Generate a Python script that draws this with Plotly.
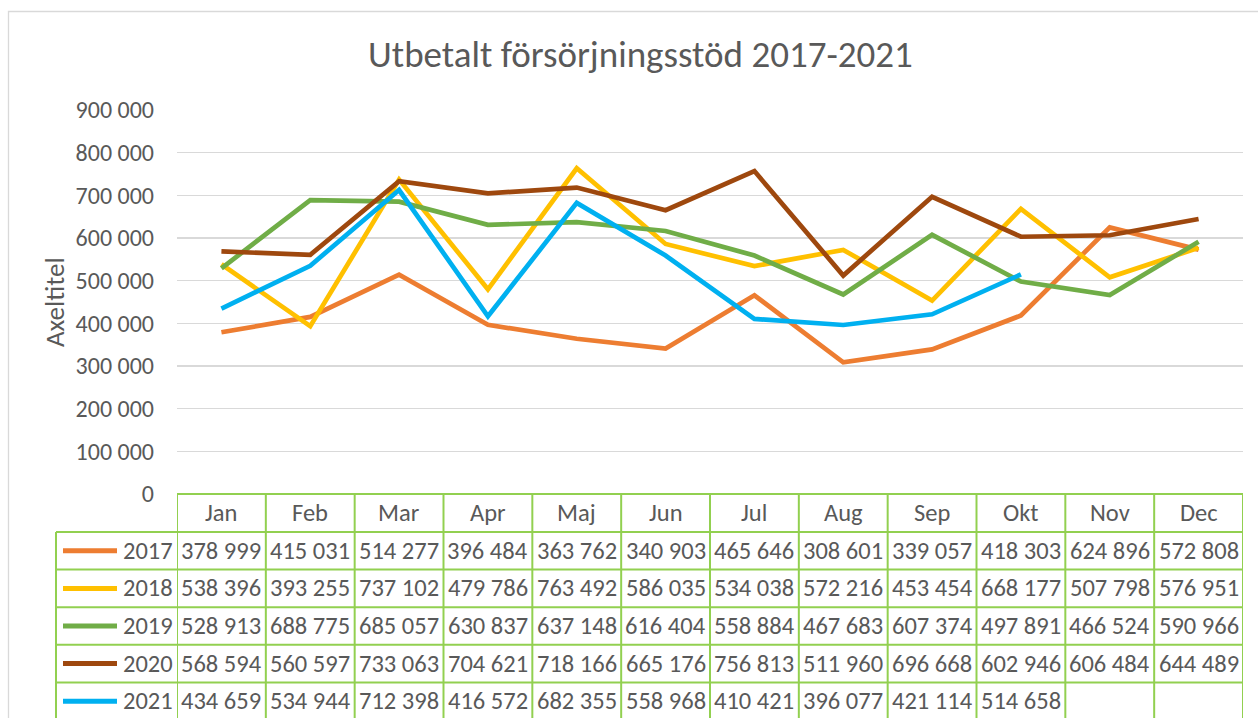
import plotly.graph_objects as go

months = ["Jan", "Feb", "Mar", "Apr", "Maj", "Jun", "Jul", "Aug", "Sep", "Okt", "Nov", "Dec"]
years = ["2017", "2018", "2019", "2020", "2021"]
v2017 = [378999, 415031, 514277, 396484, 363762, 340903, 465646, 308601, 339057, 418303, 624896, 572808]
v2018 = [538396, 393255, 737102, 479786, 763492, 586035, 534038, 572216, 453454, 668177, 507798, 576951]
v2019 = [528913, 688775, 685057, 630837, 637148, 616404, 558884, 467683, 607374, 497891, 466524, 590966]
v2020 = [568594, 560597, 733063, 704621, 718166, 665176, 756813, 511960, 696668, 602946, 606484, 644489]
v2021 = [434659, 534944, 712398, 416572, 682355, 558968, 410421, 396077, 421114, 514658, None, None]
series = [v2017, v2018, v2019, v2020, v2021]
colors = ["#ED7D31", "#FFC000", "#70AD47", "#9E480E", "#00B0F0"]

W, H = 1258, 718
FONT = "Carlito, Lato, sans-serif"
TXT = "#595959"
GREEN = "#92D050"
FS = 24.5

def px(x):
    return x / W

def py(y):
    return 1 - y / H

fig = go.Figure()
xs = list(range(len(months)))
for name, vals, c in zip(years, series, colors):
    fig.add_trace(go.Scatter(x=xs, y=vals, mode="lines", name=name,
                             line=dict(color=c, width=4.7), connectgaps=False,
                             showlegend=False, hoverinfo="skip"))

shapes = []
annotations = []

# chart border
shapes.append(dict(type="rect", xref="paper", yref="paper", x0=px(8.5), x1=px(1262),
                   y0=py(722), y1=py(11.5), line=dict(color="#D9D9D9", width=1.3),
                   fillcolor="rgba(0,0,0,0)", layer="below"))

# table geometry (pixels)
header_top, header_bot = 494, 532
row_h = 37.6
row_tops = [header_bot + i * row_h for i in range(len(years))]
table_bottom = 725
left_x = 56

shapes.append(dict(type="line", xref="x", yref="paper", x0=-0.5, x1=11.5,
                   y0=py(header_top), y1=py(header_top), line=dict(color=GREEN, width=2)))
for t in row_tops:
    shapes.append(dict(type="line", xref="paper", yref="paper", x0=px(left_x), x1=px(1243),
                       y0=py(t), y1=py(t), line=dict(color=GREEN, width=2)))
for k in range(len(months) + 1):
    shapes.append(dict(type="line", xref="x", yref="paper", x0=k - 0.5, x1=k - 0.5,
                       y0=py(header_top), y1=py(table_bottom), line=dict(color=GREEN, width=2)))
shapes.append(dict(type="line", xref="paper", yref="paper", x0=px(left_x), x1=px(left_x),
                   y0=py(header_bot), y1=py(table_bottom), line=dict(color=GREEN, width=2)))

for i, m in enumerate(months):
    annotations.append(dict(x=i, y=py((header_top + header_bot) / 2), xref="x", yref="paper",
                            text=m, showarrow=False, font=dict(family=FONT, size=FS, color=TXT),
                            xanchor="center", yanchor="middle"))

def fmt(v):
    return f"{v:,}".replace(",", " ")

for r, (name, vals, c) in enumerate(zip(years, series, colors)):
    cy = row_tops[r] + row_h / 2
    shapes.append(dict(type="line", xref="paper", yref="paper", x0=px(63), x1=px(117),
                       y0=py(cy), y1=py(cy), line=dict(color=c, width=5)))
    annotations.append(dict(x=px(175), y=py(cy), xref="paper", yref="paper", text=name,
                            showarrow=False, font=dict(family=FONT, size=FS, color=TXT),
                            xanchor="right", yanchor="middle"))
    for i, v in enumerate(vals):
        if v is None:
            continue
        annotations.append(dict(x=i, y=py(cy), xref="x", yref="paper", text=fmt(v),
                                showarrow=False, font=dict(family=FONT, size=FS, color=TXT),
                                xanchor="center", yanchor="middle"))

annotations.append(dict(x=px(640), y=py(55), xref="paper", yref="paper",
                        text="Utbetalt försörjningsstöd 2017-2021", showarrow=False,
                        font=dict(family=FONT, size=37, color=TXT),
                        xanchor="center", yanchor="middle"))
annotations.append(dict(x=px(54), y=py(302), xref="paper", yref="paper", text="Axeltitel",
                        showarrow=False, textangle=-90,
                        font=dict(family=FONT, size=27, color=TXT),
                        xanchor="center", yanchor="middle"))

fig.update_layout(
    width=W, height=H,
    margin=dict(l=0, r=0, t=0, b=0, pad=0),
    paper_bgcolor="white", plot_bgcolor="white",
    separators=", ",
    hovermode=False,
    xaxis=dict(domain=[px(177), px(1243)], range=[-0.5, 11.5], showticklabels=False,
               showgrid=False, zeroline=False, showline=False, ticks="", automargin=False),
    yaxis=dict(domain=[py(494), py(110)], range=[0, 900000], dtick=100000, tick0=0,
               tickformat=",", showgrid=True, gridcolor="#D9D9D9", gridwidth=1.6,
               zeroline=False, showline=False, ticks="", ticklabelstandoff=22, automargin=False,
               tickfont=dict(family=FONT, size=24, color=TXT)),
    shapes=shapes,
    annotations=annotations,
)

fig.write_html("out.html", config={"displayModeBar": False, "staticPlot": True},
               post_script="document.body.style.margin='0';document.body.style.overflow='hidden';")
